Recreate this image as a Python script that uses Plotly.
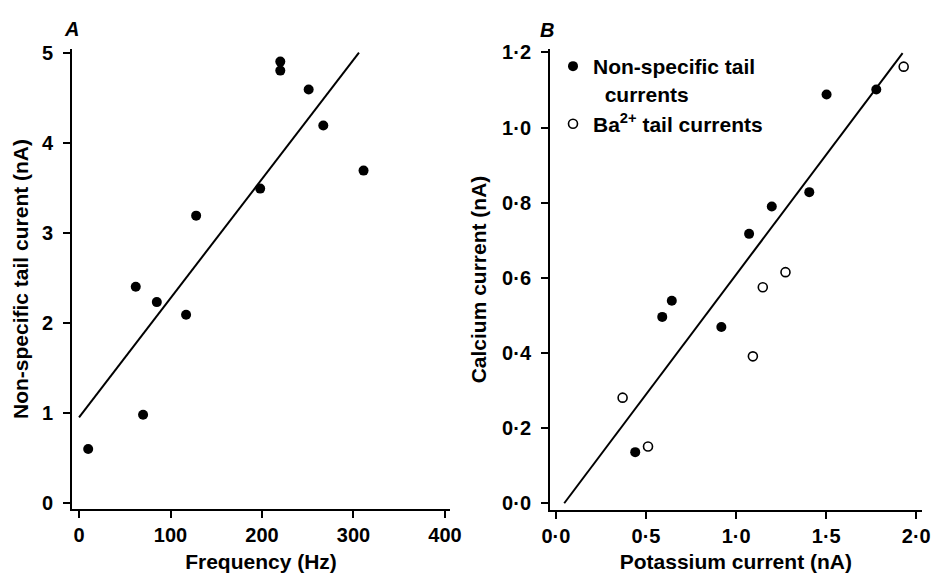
import plotly.graph_objects as go

# ---- Panel A data ----
freq_hz = [10, 62, 70, 85, 117, 128, 198, 220, 220, 251, 267, 311]
tail_nA = [0.60, 2.40, 0.98, 2.23, 2.09, 3.19, 3.49, 4.90, 4.80, 4.59, 4.19, 3.69]
fitA_x = [0, 306]
fitA_y = [0.95, 5.0]

# ---- Panel B data ----
k_nonspec = [0.44, 0.59, 0.643, 0.918, 1.072, 1.198, 1.406, 1.502, 1.778]
ca_nonspec = [0.136, 0.496, 0.539, 0.469, 0.717, 0.790, 0.828, 1.088, 1.101]
k_ba = [0.37, 0.511, 1.093, 1.148, 1.274, 1.93]
ca_ba = [0.281, 0.151, 0.391, 0.575, 0.615, 1.162]
fitB_x = [0.046, 1.924]
fitB_y = [0.0, 1.198]

# ---- tick labels ----
A_xticks = [0, 100, 200, 300, 400]
A_yticks = [0, 1, 2, 3, 4, 5]
B_xticks = [0.0, 0.5, 1.0, 1.5, 2.0]
B_xtext = ["0·0", "0·5", "1·0", "1·5", "2·0"]
B_yticks = [0.0, 0.2, 0.4, 0.6, 0.8, 1.0, 1.2]
B_ytext = ["0·0", "0·2", "0·4", "0·6", "0·8", "1·0", "1·2"]

# page body has an 8px margin; figure sized to fit the window
OFF = 8
W, H = 939 - 2 * OFF, 581 - 2 * OFF


def px(x):
    return (x - OFF) / W


def py(y):
    return 1 - (y - OFF) / H


FONT = "Liberation Sans, Arial, sans-serif"
tickfont = dict(family=FONT, size=20, color="black", weight="bold")
titlefont = dict(family=FONT, size=21, color="black", weight="bold")

fig = go.Figure()

fig.add_trace(go.Scatter(x=fitA_x, y=fitA_y, mode="lines",
                         line=dict(color="black", width=2),
                         showlegend=False, xaxis="x", yaxis="y"))
fig.add_trace(go.Scatter(x=freq_hz, y=tail_nA, mode="markers",
                         marker=dict(color="black", size=10),
                         showlegend=False, xaxis="x", yaxis="y"))

fig.add_trace(go.Scatter(x=fitB_x, y=fitB_y, mode="lines",
                         line=dict(color="black", width=2),
                         showlegend=False, xaxis="x2", yaxis="y2"))
fig.add_trace(go.Scatter(x=k_nonspec, y=ca_nonspec, mode="markers",
                         name="Non-specific tail<br>&nbsp;&nbsp;currents",
                         marker=dict(color="black", size=10),
                         xaxis="x2", yaxis="y2"))
fig.add_trace(go.Scatter(x=k_ba, y=ca_ba, mode="markers",
                         name="Ba<sup>2+</sup> tail currents",
                         marker=dict(color="white", size=9,
                                     line=dict(color="black", width=1.6)),
                         xaxis="x2", yaxis="y2"))

axis_common = dict(showline=True, linecolor="black", linewidth=2,
                   ticks="outside", ticklen=7, tickwidth=2, tickcolor="black",
                   showgrid=False, zeroline=False, automargin=False,
                   tickfont=tickfont)

fig.update_layout(
    width=W, height=H,
    margin=dict(l=0, r=0, t=0, b=0),
    paper_bgcolor="white", plot_bgcolor="white",
    xaxis=dict(domain=[px(72), px(450)], range=[-7.7, 405.5],
               tickvals=A_xticks, anchor="y",
               title=dict(text="Frequency (Hz)", font=titlefont, standoff=24),
               **axis_common),
    yaxis=dict(domain=[py(509), py(49)], range=[-0.067, 5.04],
               tickvals=A_yticks, anchor="x", ticklabelstandoff=6,
               title=dict(text="Non-specific tail curent (nA)", font=titlefont, standoff=8),
               **axis_common),
    xaxis2=dict(domain=[px(550), px(921.7)], range=[-0.033, 2.03],
                tickvals=B_xticks, ticktext=B_xtext, anchor="y2",
                title=dict(text="Potassium current (nA)", font=titlefont, standoff=24),
                **axis_common),
    yaxis2=dict(domain=[py(510), py(49)], range=[-0.018, 1.209],
                tickvals=B_yticks, ticktext=B_ytext, anchor="x2", ticklabelstandoff=6,
                title=dict(text="Calcium current (nA)", font=titlefont, standoff=10),
                **axis_common),
    legend=dict(x=px(553), y=py(46), xanchor="left", yanchor="top",
                bgcolor="rgba(0,0,0,0)", valign="top",
                font=dict(family=FONT, size=21, color="black", weight="bold"),
                itemwidth=30, tracegroupgap=0),
    annotations=[
        dict(text="<b><i>A</i></b>", x=px(62), y=py(16), xref="paper", yref="paper",
             showarrow=False, font=dict(family=FONT, size=20, color="black")),
        dict(text="<b><i>B</i></b>", x=px(547), y=py(17), xref="paper", yref="paper",
             showarrow=False, font=dict(family=FONT, size=20, color="black")),
    ],
)

fig.write_html("out.html")
